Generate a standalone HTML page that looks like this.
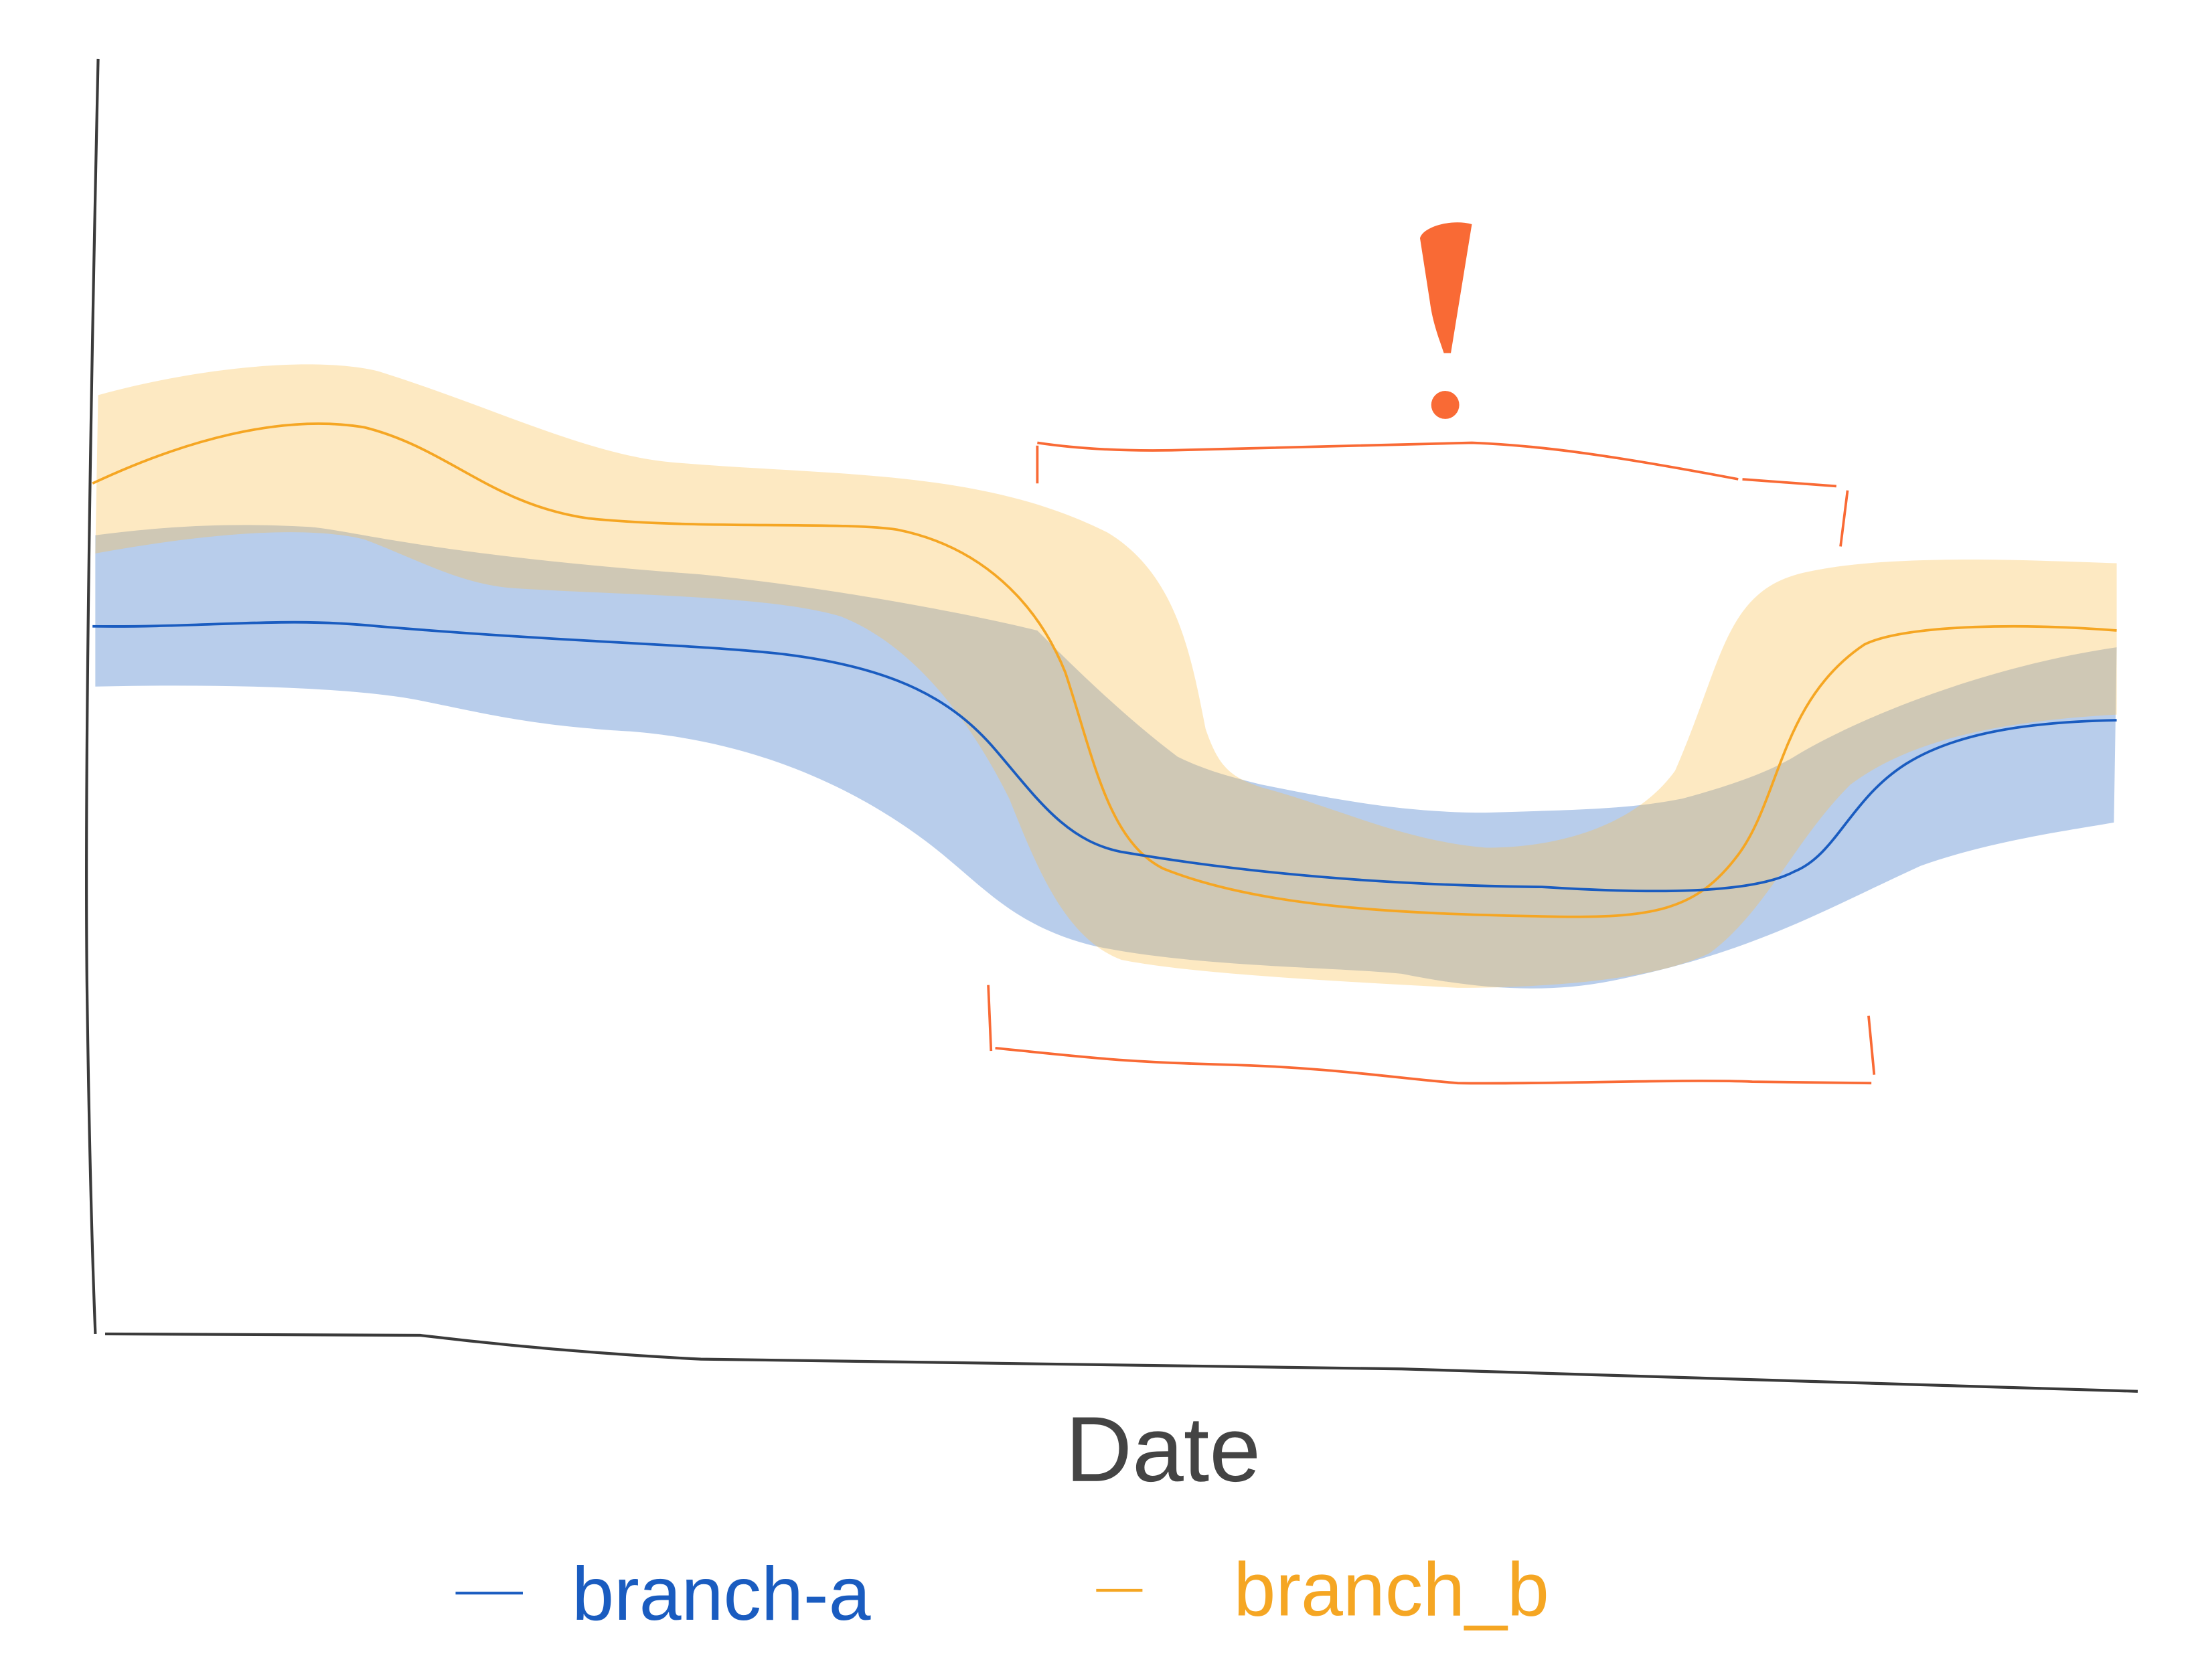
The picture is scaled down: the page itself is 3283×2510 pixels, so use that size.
<!DOCTYPE html>
<html><head><meta charset="utf-8"><style>
html,body{margin:0;padding:0;background:#fff;}
svg{display:block;}
</style></head><body>
<svg width="3283" height="2510" viewBox="0 0 1568 1199" preserveAspectRatio="none" xmlns="http://www.w3.org/2000/svg">
<rect width="1568" height="1199" fill="#fff"/>
<!-- blue band -->
<path d="M68,382 C100,378 150,372 220,376 C250,378 300,395 500,410 C600,420 700,440 740,450 C760,470 800,510 840,540 C860,550 880,555 900,560 C950,570 1000,580 1060,580 C1120,578 1160,578 1200,570 C1230,562 1260,552 1280,540 C1330,510 1420,475 1510,462 L1508,587 C1480,592 1420,600 1370,618 C1300,650 1250,680 1150,700 C1100,710 1050,705 1000,695 C950,690 850,690 780,675 C720,660 700,630 660,600 C620,570 550,530 450,522 C380,518 350,510 300,500 C250,490 150,488 68,490 Z" fill="#b8cdeb"/>
<!-- yellow band -->
<path d="M70,282 C150,260 230,255 270,265 C350,290 420,325 480,330 C600,340 700,335 790,380 C840,410 850,470 860,520 C870,550 880,555 900,562 C950,575 1000,600 1060,605 C1120,605 1170,585 1195,550 C1230,470 1230,420 1290,408 C1350,395 1450,400 1510,402 L1510,510 C1420,515 1360,530 1320,560 C1280,600 1260,650 1220,680 C1180,700 1100,705 1040,705 C950,700 850,695 800,685 C760,670 740,620 720,570 C690,510 650,460 600,440 C550,425 450,425 370,420 C330,418 300,400 260,385 C220,375 150,380 68,395 Z" fill="#f8c050" fill-opacity="0.35"/>
<!-- axes -->
<path d="M70,42 Q60,500 62,700 Q64,850 68,952" fill="none" stroke="#3a3a3a" stroke-width="2"/>
<path d="M75,952 L300,953 Q400,965 500,970 L1000,977 Q1200,983 1525,993" fill="none" stroke="#3a3a3a" stroke-width="2"/>
<!-- lines -->
<path d="M66,345 C130,315 200,295 260,305 C320,320 350,360 420,370 C500,378 600,372 640,378 C700,390 740,430 760,480 C780,540 790,600 830,620 C900,648 1000,652 1100,654 C1180,656 1210,650 1240,610 C1270,570 1270,500 1330,460 C1360,445 1450,445 1510,450" fill="none" stroke="#f5a623" stroke-width="1.8"/>
<path d="M66,447 C150,448 200,440 270,447 C400,458 500,460 560,467 C640,477 680,500 710,535 C740,570 760,600 800,608 C900,625 1000,632 1100,633 C1180,638 1250,638 1280,622 C1310,610 1320,570 1360,545 C1400,520 1460,515 1510,514" fill="none" stroke="#1a5cc0" stroke-width="1.8"/>
<!-- brackets -->
<g fill="none" stroke="#f96a35" stroke-width="1.8">
<path d="M740,318 L740,345"/>
<path d="M740,316 C780,322 820,322 850,321 L1050,316 C1100,318 1150,325 1240,342"/>
<path d="M1243,342 L1310,347"/>
<path d="M1318,350 L1313,390"/>
<path d="M705,703 L707,750"/>
<path d="M710,748 C780,755 800,758 880,760 C950,762 1000,770 1040,773 C1100,774 1200,770 1250,772 L1335,773"/>
<path d="M1333,725 L1337,767"/>
</g>
<path d="M1013,170 C1015,162 1035,156 1050,160 L1035,252 L1030,252 C1026,240 1022,230 1020,215 Z" fill="#f96a35"/>
<circle cx="1031" cy="289" r="10" fill="#f96a35"/>
<!-- labels -->
<text x="760" y="1057" font-family="Liberation Sans, sans-serif" font-size="66" fill="#444">Date</text>
<line x1="325" y1="1137" x2="373" y2="1137" stroke="#1a5cc0" stroke-width="2"/>
<text x="408" y="1156" font-family="Liberation Sans, sans-serif" font-size="54" fill="#1a5cc0">branch-a</text>
<line x1="782" y1="1135" x2="815" y2="1135" stroke="#f5a623" stroke-width="2"/>
<text x="880" y="1153" font-family="Liberation Sans, sans-serif" font-size="54" fill="#f5a623">branch_b</text>
</svg>
</body></html>
